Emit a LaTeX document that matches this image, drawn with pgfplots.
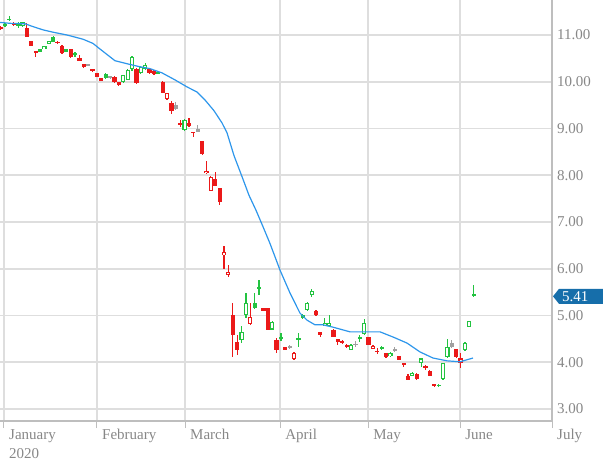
\documentclass[border=0pt]{standalone}
\usepackage{fontspec}
\setmainfont{Liberation Serif}
\usepackage{pgfplots}
\usepackage{pgfplotstable}
\pgfplotsset{compat=1.18}

\definecolor{cred}{RGB}{235,25,25}
\definecolor{cgreen}{RGB}{35,195,65}
\definecolor{cgray}{RGB}{160,160,160}
\definecolor{maline}{RGB}{45,150,235}
\definecolor{tagblue}{RGB}{22,110,170}
\definecolor{gridc}{RGB}{222,222,222}
\definecolor{axc}{RGB}{190,190,190}
\definecolor{labc}{RGB}{135,135,135}

% x = trading-day index, price in dollars
\pgfplotstableread{
k o h l c
-1 11.17 11.20 11.10 11.13
5 11.14 11.25 10.95 10.96
6 10.87 10.88 10.76 10.77
7 10.66 10.66 10.54 10.61
12 10.86 10.87 10.81 10.82
13 10.77 10.78 10.60 10.61
15 10.70 10.71 10.51 10.53
17 10.51 10.57 10.44 10.45
18 10.38 10.39 10.30 10.31
20 10.27 10.28 10.21 10.22
21 10.18 10.19 10.10 10.11
22 10.07 10.08 10.01 10.02
25 10.11 10.12 9.98 9.99
26 9.99 10.00 9.91 9.92
30 10.28 10.30 9.96 9.98
33 10.27 10.28 10.17 10.18
34 10.24 10.25 10.15 10.16
36 10.00 10.01 9.75 9.77
38 9.54 9.59 9.32 9.37
40 9.12 9.18 9.04 9.08
42 9.11 9.22 9.03 9.06
43 8.93 8.93 8.81 8.90
45 8.73 8.74 8.44 8.45
48 7.91 8.08 7.76 7.77
49 7.72 7.73 7.36 7.43
52 5.01 5.27 4.12 4.58
53 4.44 4.58 4.16 4.26
59 5.17 5.17 5.10 5.10
60 5.17 5.17 4.69 4.70
62 4.48 4.52 4.20 4.26
64 4.32 4.33 4.26 4.27
71 5.10 5.11 4.99 5.00
72 4.64 4.64 4.55 4.58
75 4.70 4.71 4.54 4.55
76 4.50 4.50 4.37 4.44
77 4.45 4.48 4.39 4.41
78 4.37 4.38 4.31 4.32
83 4.53 4.54 4.36 4.37
85 4.25 4.30 4.18 4.21
87 4.19 4.20 4.10 4.11
90 4.13 4.14 4.04 4.05
91 3.98 3.98 3.89 3.94
92 3.71 3.74 3.61 3.62
94 3.75 3.76 3.63 3.64
96 3.91 3.95 3.84 3.87
97 3.82 3.83 3.70 3.71
98 3.53 3.53 3.46 3.50
103 4.28 4.29 4.10 4.11
}\RF

\pgfplotstableread{
k o h l c
2 11.21 11.27 11.19 11.25
37 9.63 9.76 9.60 9.75
46 8.04 8.30 8.03 8.10
47 7.67 7.98 7.66 7.97
50 6.29 6.49 5.99 6.35
51 5.87 6.08 5.82 5.93
56 4.82 5.26 4.80 4.97
66 4.06 4.21 4.05 4.20
84 4.29 4.36 4.28 4.35
104 3.99 4.20 3.88 4.08
}\RH

\pgfplotstableread{
k o h l c
0 11.23 11.26 11.17 11.19
1 11.35 11.40 11.30 11.32
3 11.23 11.27 11.15 11.20
8 10.69 10.70 10.63 10.64
11 10.95 10.98 10.85 10.86
14 10.69 10.70 10.63 10.64
16 10.61 10.64 10.54 10.58
23 10.17 10.19 10.06 10.07
35 10.21 10.22 10.16 10.17
57 5.27 5.49 5.13 5.15
58 5.60 5.77 5.44 5.56
63 4.53 4.62 4.45 4.50
67 4.51 4.62 4.33 4.47
68 5.01 5.03 4.93 4.95
81 4.53 4.58 4.44 4.50
86 4.32 4.34 4.27 4.28
99 3.52 3.53 3.47 3.49
107 5.46 5.65 5.39 5.41
}\GF

\pgfplotstableread{
k o h l c
4 11.20 11.28 11.18 11.27
9 10.70 10.77 10.69 10.76
10 10.81 10.88 10.80 10.87
27 9.99 10.15 9.98 10.14
28 10.04 10.28 10.03 10.25
29 10.27 10.55 10.24 10.52
31 10.18 10.32 10.17 10.31
32 10.27 10.40 10.26 10.36
41 8.97 9.20 8.95 9.18
54 4.48 4.77 4.42 4.65
55 5.01 5.49 4.94 5.26
61 4.70 4.88 4.69 4.87
69 5.12 5.28 5.10 5.26
70 5.44 5.57 5.39 5.53
73 4.78 4.95 4.77 4.83
74 4.78 5.00 4.77 4.84
79 4.27 4.40 4.26 4.37
82 4.60 4.92 4.59 4.85
88 4.13 4.21 4.12 4.20
93 3.71 3.79 3.70 3.78
95 3.99 4.09 3.89 4.08
100 3.64 3.99 3.63 3.98
101 4.11 4.49 4.10 4.32
105 4.26 4.43 4.25 4.42
106 4.76 4.89 4.75 4.88
}\GH

\pgfplotstableread{
k o h l c
19 10.37 10.38 10.33 10.34
24 10.12 10.13 10.06 10.07
39 9.50 9.56 9.40 9.42
44 9.00 9.07 8.92 8.93
65 4.35 4.37 4.29 4.32
80 4.40 4.46 4.32 4.36
89 4.28 4.33 4.22 4.23
102 4.42 4.48 4.31 4.32
}\GY

\pgfplotstableread{
k v
-1.14 11.27
1.14 11.25
4.57 11.24
6.39 11.18
8.68 11.11
10.96 11.06
14.16 11.00
17.81 10.91
20.09 10.82
21.69 10.70
25.11 10.45
28.08 10.38
30.37 10.33
33.11 10.28
35.84 10.19
38.81 10.04
41.55 9.89
43.84 9.78
45.66 9.61
47.72 9.38
49.54 9.12
50.68 8.91
52.28 8.42
54.11 7.97
55.71 7.57
57.31 7.25
58.90 6.90
60.50 6.54
62.79 5.97
65.07 5.48
67.35 5.05
68.95 4.90
70.78 4.80
72.60 4.80
74.89 4.75
78.77 4.65
82.65 4.65
85.62 4.65
88.58 4.54
91.78 4.41
94.75 4.22
97.72 4.09
100.91 4.03
103.88 4.01
106.85 4.09
}\MA

\newcommand\candleset[3]{%
  \addplot[forget plot, draw=none, mark=none,
    error bars/.cd, y dir=both, y explicit, error mark=none,
    error bar style={line width=1.2bp, draw=#2, solid}]
    table[x=k, y expr={(\thisrow{h}+\thisrow{l})/2}, y error expr={(\thisrow{h}-\thisrow{l})/2}] {#1};
  \addplot[forget plot, draw=none, mark=none,
    error bars/.cd, y dir=both, y explicit, error mark=none,
    error bar style={line width=4.2bp, draw=#2, solid}]
    table[x=k, y expr={(\thisrow{o}+\thisrow{c})/2}, y error expr={max(abs(\thisrow{o}-\thisrow{c})/2,0.014)}] {#1};
  \ifnum#3=1
  \addplot[forget plot, draw=none, mark=none,
    error bars/.cd, y dir=both, y explicit, error mark=none,
    error bar style={line width=2bp, draw=white, solid}]
    table[x=k, y expr={(\thisrow{o}+\thisrow{c})/2}, y error expr={max(abs(\thisrow{o}-\thisrow{c})/2-0.022,0)}] {#1};
  \fi
}

\begin{document}
\begin{tikzpicture}
\begin{axis}[
  at={(0,0)}, anchor=south west,
  scale only axis, width=552bp, height=421bp,
  xmin=-1.14, xmax=124.88, ymin=2.743, ymax=11.749,
  axis x line*=bottom, axis y line*=right,
  axis line style={draw=axc, line width=1.5bp},
  xtick={-0.23,21.0,41.1,62.8,82.9,103.9,124.88},
  xticklabels={{January\\2020},February,March,April,May,June,July},
  ytick={3,4,5,6,7,8,9,10,11},
  yticklabel={\pgfmathprintnumber[fixed,fixed zerofill,precision=2]{\tick}},
  /pgf/number format/assume math mode=true,
  xmajorgrids, ymajorgrids,
  grid style={draw=gridc, line width=1.6bp},
  tick align=outside,
  major tick length=7bp,
  major x tick style={draw=axc, line width=1bp},
  major y tick style={draw=none},
  xticklabel style={font=\fontsize{15bp}{19bp}\selectfont, text=labc, anchor=north west, align=left, inner sep=0pt, xshift=5bp, yshift=-1bp},
  yticklabel style={font=\fontsize{15bp}{19bp}\selectfont, text=labc, anchor=west, inner sep=0pt, xshift=-2bp},
]
\candleset{\RF}{cred}{0}
\candleset{\RH}{cred}{1}
\candleset{\GF}{cgreen}{0}
\candleset{\GH}{cgreen}{1}
\candleset{\GY}{cgray}{0}
\addplot[forget plot, maline, line width=1.2bp, line join=round, mark=none] table[x=k, y=v] {\MA};
\coordinate (tag) at (axis cs:124.88,5.41);
\end{axis}
\fill[tagblue] ([xshift=1bp]tag) -- ++(6bp,7.5bp) -- ++(50bp,0) -- ++(0,-15bp) -- ++(-50bp,0) -- cycle;
\node[anchor=west, text=white, inner sep=0pt, font=\fontsize{15bp}{19bp}\selectfont] at ([xshift=10bp]tag) {5.41};
\pgfresetboundingbox
\path[use as bounding box] ([yshift=-47bp]current axis.south west) rectangle ([xshift=51bp]current axis.north east);
\end{tikzpicture}
\end{document}
